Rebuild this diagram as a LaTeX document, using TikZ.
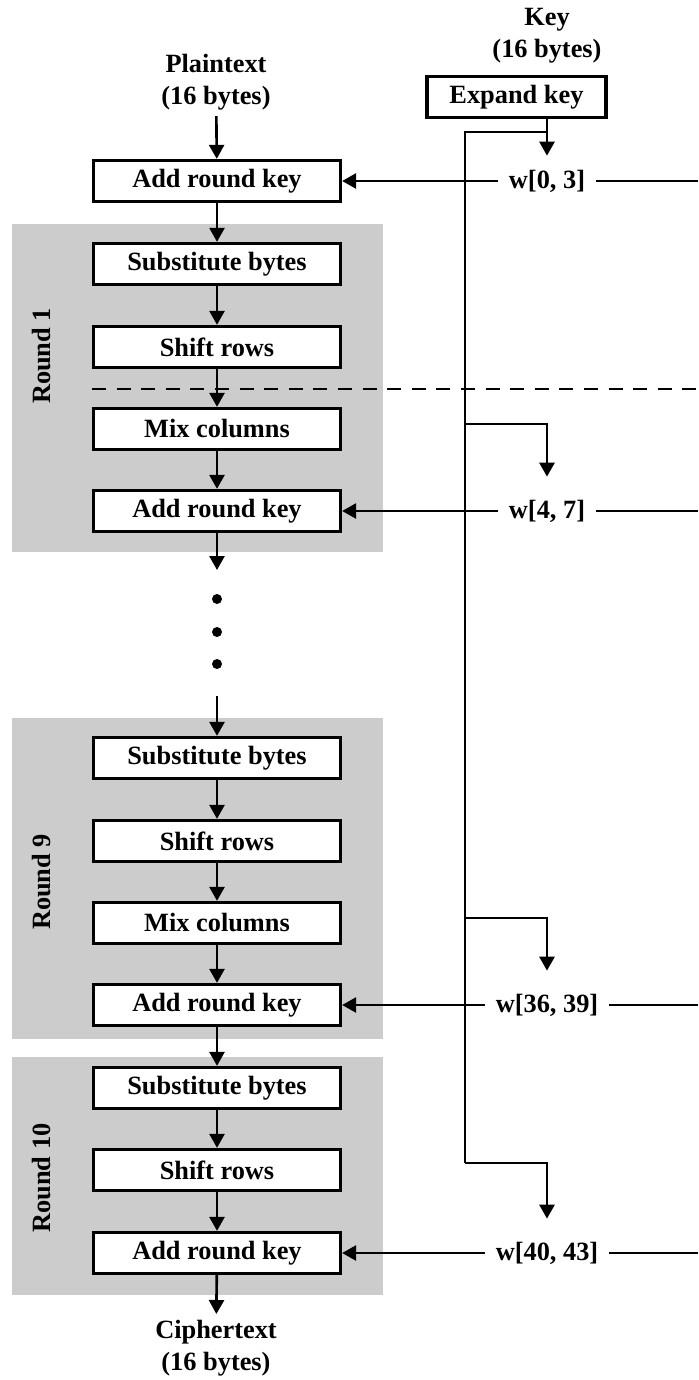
\documentclass[tikz,border=0pt]{standalone}
\usepackage{fontspec}
\setmainfont{Liberation Serif}
\usetikzlibrary{positioning,arrows.meta}

\begin{document}
\begin{tikzpicture}[>={Triangle[length=2.8mm,width=3mm]},x=0.02cm,y=-0.02cm,
  font=\fontsize{15}{18}\selectfont\bfseries,
  stage/.style={draw,line width=1.9pt,fill=white,minimum width=4.94cm,minimum height=0.82cm,inner sep=0pt},
  roundbg/.style={fill=gray!40},
  wlabel/.style={minimum height=1.36cm,inner xsep=6pt,inner ysep=0pt},
  flow/.style={line width=1.5pt}]
\useasboundingbox (0,0) rectangle (698,1380);
% round backgrounds
\fill[roundbg] (12,224) rectangle (383,552);
\fill[roundbg] (12,718) rectangle (383,1039);
\fill[roundbg] (12,1057) rectangle (383,1295);
\node[rotate=90] (r1) at (42,356) {Round 1};
\node[rotate=90] (r9) at (42,882) {Round 9};
\node[rotate=90] (r10) at (42,1178) {Round 10};

% input / output
\node[align=center] (plain) at (216,82) {Plaintext\\(16 bytes)};
\node[align=center] (key) at (547,36) {Key\\(16 bytes)};
\node[align=center] (cipher) at (216,1348) {Ciphertext\\(16 bytes)};
\node[stage,minimum width=3.58cm] (expand) at (516.5,97) {Expand key};

% stages
\node[stage] (ark0) at (217,181) {Add round key};
\node[stage] (sb1) at (217,264) {Substitute bytes};
\node[stage] (sr1) at (217,347) {Shift rows};
\node[stage] (mc1) at (217,429) {Mix columns};
\node[stage] (ark1) at (217,511) {Add round key};
\node[stage] (sb9) at (217,758) {Substitute bytes};
\node[stage] (sr9) at (217,841) {Shift rows};
\node[stage] (mc9) at (217,923) {Mix columns};
\node[stage] (ark9) at (217,1005) {Add round key};
\node[stage] (sb10) at (217,1088) {Substitute bytes};
\node[stage] (sr10) at (217,1170) {Shift rows};
\node[stage] (ark10) at (217,1253) {Add round key};

% round keys
\node[wlabel,minimum height=1cm] (w0) at (547,181) {w[0, 3]};
\node[wlabel] (w1) at (547,511) {w[4, 7]};
\node[wlabel] (w9) at (547,1005) {w[36, 39]};
\node[wlabel] (w10) at (547,1253) {w[40, 43]};

% dots between rounds
\coordinate (gapA) at (217,570);
\coordinate (gapB) at (217,696);
\foreach \y [count=\i] in {599,632,664}
  \fill (217,\y) circle (0.1cm) coordinate (dot\i);

% key schedule taps
\coordinate (k0) at (465,132);
\coordinate (k1) at (465,424);
\coordinate (k9) at (465,918);
\coordinate (k10) at (465,1163);

% right edge
\coordinate (e0) at (698,181);
\coordinate (e1) at (698,511);
\coordinate (e9) at (698,1005);
\coordinate (e10) at (698,1253);

\draw[dashed,line width=0.9pt,dash pattern=on 8 off 6] (92,389) -- (698,389);

% main flow
\draw[flow,->] (plain) -- (ark0);
\draw[flow,->] (ark0) -- (sb1);
\draw[flow,->] (sb1) -- (sr1);
\draw[flow,->] (sr1) -- (mc1);
\draw[flow,->] (mc1) -- (ark1);
\draw[flow,->] (ark1) -- (gapA);
\draw[flow,->] (gapB) -- (sb9);
\draw[flow,->] (sb9) -- (sr9);
\draw[flow,->] (sr9) -- (mc9);
\draw[flow,->] (mc9) -- (ark9);
\draw[flow,->] (ark9) -- (sb10);
\draw[flow,->] (sb10) -- (sr10);
\draw[flow,->] (sr10) -- (ark10);
\draw[flow,->] (ark10) -- (cipher);

% key flow
\draw[flow,->] (expand.south -| w0) -- (w0.north);
\draw[flow] (k0 -| w0) -- (k0) -- (k10);
\draw[flow,->] (k1) -| (w1.north);
\draw[flow,->] (k9) -| (w9.north);
\draw[flow,->] (k10) -| (w10.north);
\draw[flow,->] (w0) -- (ark0);
\draw[flow,->] (w1) -- (ark1);
\draw[flow,->] (w9) -- (ark9);
\draw[flow,->] (w10) -- (ark10);
\draw[flow] (w0) -- (e0);
\draw[flow] (w1) -- (e1);
\draw[flow] (w9) -- (e9);
\draw[flow] (w10) -- (e10);
\end{tikzpicture}
\end{document}
